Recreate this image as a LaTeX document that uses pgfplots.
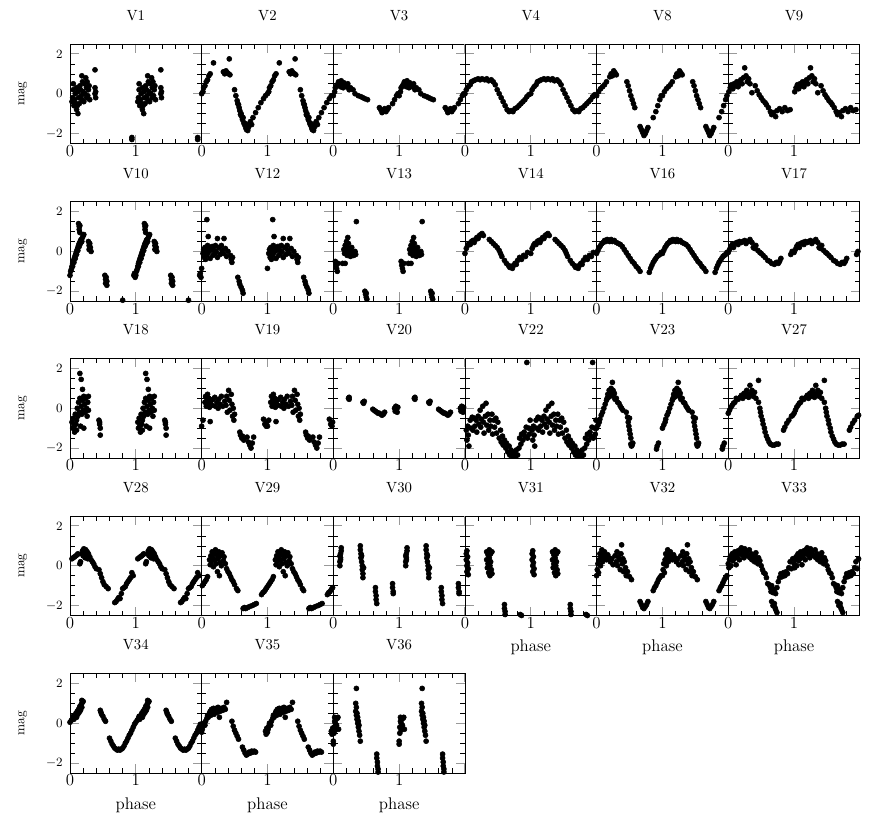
\documentclass[border=0pt]{standalone}
\usepackage{pgfplots}
\usepackage{pgfplotstable}
\pgfplotsset{compat=1.18}

\pgfplotsset{
  lc/.style={scale only axis, width=32.91mm, height=24.875mm, anchor=south west,
    xmin=0, xmax=2, ymin=-2.5, ymax=2.5,
    xtick={0,1,2}, xticklabels={0,1,{}},
    minor xtick={0.2,0.4,0.6,0.8,1.2,1.4,1.6,1.8},
    ytick={-2,0,2}, minor y tick num=3,
    tick align=inside,
    major tick length=2.2mm, minor tick length=1.2mm,
    major tick style={black!40, line width=0.7pt},
    minor tick style={black, line width=0.4pt},
    axis line style={line width=0.6pt},
    xticklabel style={font=\fontsize{12}{12}\selectfont, inner sep=1pt},
    yticklabel style={font=\fontsize{9.5}{10}\selectfont, xshift=-0.6mm},
    title style={at={(0.5,1)}, anchor=center, yshift=5mm, font=\fontsize{10.5}{12}\selectfont},
    xlabel style={at={(axis description cs:0.5,-0.32)}, anchor=center, font=\fontsize{12}{12}\selectfont},
  },
  inner/.style={yticklabels={,,}},
  first/.style={ylabel={mag}, ylabel style={at={(axis description cs:-0.36,0.5)}, anchor=center, font=\fontsize{9.5}{10}\selectfont}},
  pts/.style={only marks, mark=*, mark size=1.8pt, black},
}

% each panel: phase 0..1 plotted, then again shifted by one cycle
\newcommand{\panel}[5]{%
\begin{axis}[lc, at={(#1mm,#2mm)}, title={#3}, #4]
\addplot[pts] table[x=p, y=m]{#5};
\addplot[pts] table[x expr=\thisrow{p}+1, y=m]{#5};
\end{axis}}

% V1
\pgfplotstableread[row sep=\\]{p m\\
0.03 -0.4\\0.04 -0.2\\0.05 0.5\\0.05 0.2\\0.06 -0.6\\0.07 -0.3\\0.08 0.0\\0.09 -0.5\\0.10 -0.8\\0.10 0.3\\
0.11 -0.6\\0.12 -1.0\\0.12 0.1\\0.13 -0.2\\0.14 -0.5\\0.15 0.4\\0.16 0.2\\0.17 -0.1\\0.18 0.9\\0.18 -0.3\\
0.19 0.6\\0.20 0.1\\0.21 -0.4\\0.22 0.5\\0.23 0.0\\0.24 0.8\\0.25 -0.2\\0.25 0.3\\0.26 0.6\\0.27 -0.1\\
0.28 0.2\\0.29 0.4\\0.30 -0.3\\0.38 0.3\\0.38 0.0\\0.39 -0.2\\0.39 0.1\\0.38 1.2\\0.94 -2.2\\0.94 -2.3\\
}\lcA
% V2
\pgfplotstableread[row sep=\\]{p m\\
0.00 0.0\\0.02 0.1\\0.03 0.3\\0.05 0.4\\0.07 0.6\\0.09 0.7\\0.11 0.9\\0.13 1.0\\0.18 1.55\\0.33 1.1\\
0.35 1.0\\0.37 1.15\\0.39 1.05\\0.41 1.0\\0.42 1.75\\0.43 0.95\\0.50 0.2\\0.52 -0.1\\0.54 -0.35\\0.55 -0.5\\
0.56 -0.55\\0.57 -0.7\\0.58 -0.85\\0.59 -1.05\\0.60 -1.0\\0.61 -1.15\\0.62 -1.3\\0.63 -1.2\\0.64 -1.45\\0.65 -1.55\\
0.66 -1.5\\0.67 -1.7\\0.68 -1.8\\0.69 -1.6\\0.70 -1.85\\0.71 -1.7\\0.72 -1.6\\0.73 -1.5\\0.74 -1.4\\0.76 -1.55\\
0.78 -1.2\\0.82 -0.95\\0.86 -0.7\\0.90 -0.45\\0.94 -0.25\\0.97 -0.1\\
}\lcB
% V3
\pgfplotstableread[row sep=\\]{p m\\
0.00 -0.1\\0.02 0.1\\0.03 0.3\\0.05 0.4\\0.07 0.5\\0.08 0.6\\0.10 0.45\\0.11 0.35\\0.12 0.65\\0.14 0.5\\
0.15 0.3\\0.16 0.55\\0.18 0.4\\0.20 0.35\\0.22 0.5\\0.24 0.2\\0.26 0.3\\0.30 0.2\\0.33 0.0\\0.38 -0.1\\
0.42 -0.15\\0.45 -0.2\\0.48 -0.25\\0.52 -0.3\\0.70 -0.7\\0.72 -0.8\\0.74 -0.95\\0.76 -0.85\\0.78 -0.75\\0.80 -0.9\\
0.82 -0.8\\0.84 -0.7\\0.90 -0.5\\0.93 -0.3\\0.96 -0.1\\0.98 0.0\\
}\lcC
% V4
\pgfplotstableread[row sep=\\]{p m\\
0.00 0.0\\0.02 0.2\\0.05 0.35\\0.08 0.45\\0.10 0.6\\0.13 0.65\\0.16 0.7\\0.20 0.75\\0.23 0.7\\0.26 0.75\\
0.30 0.7\\0.33 0.75\\0.36 0.65\\0.40 0.7\\0.43 0.6\\0.46 0.45\\0.49 0.2\\0.52 0.0\\0.55 -0.2\\0.58 -0.4\\
0.61 -0.6\\0.64 -0.8\\0.67 -0.9\\0.70 -0.85\\0.73 -0.9\\0.76 -0.75\\0.79 -0.7\\0.82 -0.6\\0.85 -0.5\\0.88 -0.4\\
0.91 -0.3\\0.94 -0.15\\0.97 -0.05\\
}\lcD
% V8
\pgfplotstableread[row sep=\\]{p m\\
0.00 -0.1\\0.03 0.1\\0.06 0.25\\0.09 0.35\\0.12 0.45\\0.15 0.6\\0.20 0.85\\0.22 1.0\\0.24 0.9\\0.26 1.15\\
0.28 1.05\\0.30 0.95\\0.46 0.6\\0.48 0.4\\0.50 0.15\\0.52 -0.1\\0.54 -0.3\\0.56 -0.5\\0.58 -0.7\\0.66 -1.65\\
0.68 -1.8\\0.70 -1.95\\0.72 -2.1\\0.74 -2.0\\0.76 -1.85\\0.78 -1.7\\0.86 -1.2\\0.90 -0.9\\0.93 -0.6\\0.96 -0.3\\
0.98 -0.1\\
}\lcE
% V9
\pgfplotstableread[row sep=\\]{p m\\
0.01 0.1\\0.03 0.3\\0.05 0.45\\0.07 0.25\\0.09 0.5\\0.11 0.4\\0.13 0.6\\0.15 0.35\\0.17 0.55\\0.19 0.7\\
0.21 0.5\\0.23 0.8\\0.25 1.3\\0.27 0.9\\0.29 0.6\\0.31 0.75\\0.33 0.5\\0.36 0.05\\0.41 0.4\\0.44 0.15\\
0.47 -0.05\\0.50 -0.2\\0.53 -0.35\\0.56 -0.45\\0.58 -0.55\\0.61 -0.7\\0.64 -0.9\\0.66 -1.05\\0.69 -0.95\\0.72 -1.15\\
0.74 -0.85\\0.78 -0.75\\0.82 -0.9\\0.86 -0.7\\0.90 -0.85\\0.94 -0.8\\
}\lcF
% V10
\pgfplotstableread[row sep=\\]{p m\\
0.00 -1.2\\0.01 -1.0\\0.02 -0.9\\0.03 -0.75\\0.04 -0.6\\0.04 -0.75\\0.05 -0.5\\0.06 -0.4\\0.06 -0.55\\0.07 -0.3\\
0.08 -0.2\\0.08 -0.35\\0.09 -0.1\\0.10 0.0\\0.10 -0.15\\0.11 0.1\\0.12 0.2\\0.12 0.05\\0.13 0.3\\0.14 0.4\\
0.14 0.25\\0.15 0.45\\0.16 0.55\\0.16 0.4\\0.17 0.6\\0.18 0.5\\0.19 0.7\\0.20 0.8\\0.21 0.85\\0.13 1.4\\
0.14 1.25\\0.14 1.1\\0.15 1.3\\0.15 0.95\\0.28 0.5\\0.29 0.3\\0.29 0.1\\0.30 0.4\\0.31 0.2\\0.32 0.0\\
0.53 -1.2\\0.54 -1.4\\0.54 -1.6\\0.55 -1.3\\0.56 -1.5\\0.56 -1.7\\0.80 -2.45\\0.97 -1.2\\0.98 -1.1\\0.99 -1.3\\
}\lcG
% V12
\pgfplotstableread[row sep=\\]{p m\\
0.00 -0.85\\0.02 -0.1\\0.03 0.1\\0.04 -0.3\\0.05 0.2\\0.06 -0.4\\0.07 0.0\\0.08 1.6\\0.08 -0.2\\0.09 0.3\\
0.10 0.75\\0.10 -0.05\\0.12 0.15\\0.13 -0.35\\0.14 0.05\\0.16 0.25\\0.17 -0.2\\0.18 0.1\\0.20 -0.1\\0.21 0.3\\
0.22 0.0\\0.24 0.65\\0.24 -0.3\\0.26 0.2\\0.28 -0.15\\0.30 0.3\\0.31 0.05\\0.33 -0.1\\0.34 0.65\\0.36 0.15\\
0.38 -0.25\\0.40 0.0\\0.44 -0.2\\0.45 -0.4\\0.46 -0.55\\0.47 -0.3\\0.55 -1.3\\0.57 -1.5\\0.58 -1.65\\0.60 -1.8\\
0.62 -1.95\\0.63 -2.1\\
}\lcH
% V13
\pgfplotstableread[row sep=\\]{p m\\
0.03 -0.5\\0.04 -0.7\\0.05 -0.85\\0.06 -1.0\\0.07 -0.6\\0.14 -0.6\\0.18 -0.6\\0.16 0.1\\0.17 -0.1\\0.18 0.3\\
0.19 0.0\\0.20 0.5\\0.21 0.2\\0.21 -0.2\\0.22 0.7\\0.22 0.05\\0.23 0.4\\0.24 -0.1\\0.25 0.15\\0.26 -0.25\\
0.27 0.0\\0.28 0.2\\0.30 -0.1\\0.31 -0.2\\0.33 0.0\\0.34 -0.15\\0.35 1.5\\0.48 -2.0\\0.49 -2.15\\0.50 -2.3\\
0.51 -2.4\\0.50 -2.1\\
}\lcI
% V14
\pgfplotstableread[row sep=\\]{p m\\
0.00 -0.1\\0.02 0.15\\0.04 0.3\\0.06 0.4\\0.08 0.35\\0.10 0.5\\0.12 0.55\\0.14 0.45\\0.16 0.6\\0.18 0.7\\
0.20 0.65\\0.22 0.8\\0.24 0.85\\0.26 0.9\\0.28 0.8\\0.37 0.6\\0.40 0.5\\0.43 0.4\\0.46 0.3\\0.49 0.2\\
0.52 0.05\\0.54 -0.1\\0.56 -0.25\\0.60 -0.45\\0.63 -0.6\\0.66 -0.7\\0.68 -0.8\\0.70 -0.75\\0.72 -0.85\\0.74 -0.7\\
0.76 -0.6\\0.78 -0.65\\0.80 -0.45\\0.83 -0.3\\0.86 -0.4\\0.89 -0.2\\0.92 -0.25\\0.95 -0.05\\
}\lcJ
% V16
\pgfplotstableread[row sep=\\]{p m\\
0.00 -0.1\\0.02 0.05\\0.04 0.2\\0.06 0.3\\0.08 0.4\\0.10 0.45\\0.12 0.55\\0.14 0.5\\0.16 0.6\\0.18 0.55\\
0.20 0.5\\0.22 0.6\\0.24 0.5\\0.27 0.55\\0.30 0.45\\0.33 0.4\\0.36 0.35\\0.39 0.25\\0.42 0.1\\0.45 -0.05\\
0.48 -0.2\\0.51 -0.35\\0.54 -0.5\\0.57 -0.6\\0.60 -0.75\\0.63 -0.85\\0.66 -1.0\\0.80 -1.05\\0.82 -0.85\\0.84 -0.7\\
0.86 -0.55\\0.88 -0.45\\0.90 -0.35\\0.92 -0.25\\0.94 -0.2\\0.96 -0.15\\0.98 -0.05\\
}\lcK
% V17
\pgfplotstableread[row sep=\\]{p m\\
0.00 -0.05\\0.02 0.1\\0.04 0.25\\0.06 0.35\\0.08 0.2\\0.10 0.4\\0.13 0.45\\0.15 0.35\\0.17 0.5\\0.20 0.45\\
0.22 0.5\\0.25 0.55\\0.27 0.4\\0.30 0.5\\0.33 0.6\\0.36 0.45\\0.38 0.2\\0.40 0.15\\0.42 0.3\\0.45 0.05\\
0.48 -0.05\\0.50 -0.1\\0.53 -0.2\\0.56 -0.3\\0.60 -0.45\\0.63 -0.5\\0.66 -0.6\\0.70 -0.65\\0.73 -0.55\\0.76 -0.6\\
0.78 -0.5\\0.80 -0.35\\0.95 -0.15\\0.97 0.0\\
}\lcL
% V18
\pgfplotstableread[row sep=\\]{p m\\
0.03 -0.7\\0.04 -1.0\\0.05 -0.5\\0.06 -0.9\\0.07 -1.2\\0.08 -0.3\\0.09 -0.8\\0.10 -0.6\\0.10 -1.1\\0.11 0.0\\
0.12 -0.4\\0.13 0.3\\0.14 -0.2\\0.15 1.75\\0.15 0.5\\0.16 -0.9\\0.17 1.45\\0.17 0.1\\0.18 -0.3\\0.19 0.95\\
0.19 0.4\\0.20 -0.1\\0.21 0.6\\0.21 -1.0\\0.22 0.2\\0.23 -0.2\\0.24 0.5\\0.25 0.0\\0.26 -0.4\\0.27 0.3\\
0.28 -0.1\\0.28 0.6\\0.44 -0.6\\0.45 -0.8\\0.46 -1.0\\0.45 -0.7\\0.46 -1.35\\
}\lcM
% V19
\pgfplotstableread[row sep=\\]{p m\\
0.94 -0.55\\0.96 -0.8\\0.98 -0.9\\0.99 -0.7\\0.00 -0.9\\0.02 -0.6\\0.05 0.3\\0.06 0.6\\0.07 0.1\\0.08 0.4\\
0.09 0.7\\0.10 0.2\\0.11 0.5\\0.12 0.05\\0.13 -0.67\\0.14 0.35\\0.16 0.15\\0.17 0.45\\0.20 0.55\\0.21 0.1\\
0.23 0.3\\0.25 0.0\\0.26 0.45\\0.28 0.2\\0.30 0.6\\0.32 0.1\\0.35 0.35\\0.37 0.15\\0.38 0.6\\0.39 -0.2\\
0.41 0.9\\0.42 0.4\\0.43 -0.1\\0.45 0.7\\0.46 0.2\\0.47 -0.4\\0.48 0.0\\0.49 -0.6\\0.50 -0.3\\0.58 -1.2\\
0.59 -1.35\\0.61 -1.5\\0.62 -1.4\\0.64 -1.6\\0.69 -1.45\\0.71 -1.7\\0.73 -1.85\\0.75 -2.0\\0.77 -1.75\\0.79 -1.45\\
}\lcN
% V20
\pgfplotstableread[row sep=\\]{p m\\
0.23 0.5\\0.24 0.45\\0.24 0.55\\0.45 0.3\\0.46 0.25\\0.47 0.35\\0.60 -0.05\\0.62 -0.1\\0.64 -0.15\\0.66 -0.2\\
0.68 -0.25\\0.70 -0.25\\0.72 -0.3\\0.74 -0.35\\0.76 -0.3\\0.78 -0.2\\0.93 0.0\\0.94 -0.15\\0.95 0.1\\0.96 -0.05\\
0.97 -0.2\\0.98 0.05\\
}\lcO
% V22
\pgfplotstableread[row sep=\\]{p m\\
0.02 -1.1\\0.03 -1.6\\0.04 -0.9\\0.05 -1.35\\0.06 -1.9\\0.08 -0.6\\0.09 -1.0\\0.11 -0.45\\0.12 -1.1\\0.14 -0.5\\
0.15 -0.9\\0.17 -0.6\\0.18 -1.2\\0.20 -0.4\\0.21 -0.8\\0.23 -0.1\\0.24 -0.95\\0.25 -0.55\\0.27 0.1\\0.28 -0.7\\
0.29 -1.25\\0.31 -0.4\\0.32 0.25\\0.33 -0.85\\0.35 -0.3\\0.36 -1.1\\0.38 -0.6\\0.39 -0.9\\0.41 -0.3\\0.42 -1.3\\
0.44 -0.6\\0.45 -0.95\\0.47 -0.5\\0.48 -1.25\\0.50 -0.7\\0.52 -1.5\\0.54 -1.1\\0.55 -1.7\\0.57 -1.4\\0.58 -1.85\\
0.60 -1.6\\0.62 -2.0\\0.63 -1.75\\0.65 -2.2\\0.67 -1.9\\0.68 -2.35\\0.70 -2.1\\0.72 -2.4\\0.73 -2.2\\0.75 -2.3\\
0.77 -2.4\\0.78 -2.1\\0.80 -2.35\\0.82 -2.0\\0.83 -1.5\\0.85 -1.8\\0.86 -1.3\\0.88 -1.6\\0.90 -1.2\\0.91 -1.4\\
0.93 -0.95\\0.94 2.3\\0.95 -1.5\\0.97 -1.0\\0.98 -1.3\\0.99 -0.6\\
}\lcP
% V23
\pgfplotstableread[row sep=\\]{p m\\
0.91 -2.05\\0.92 -1.9\\0.94 -1.75\\0.00 -1.0\\0.02 -0.85\\0.04 -0.7\\0.05 -0.55\\0.07 -0.35\\0.09 -0.2\\0.11 0.0\\
0.13 0.2\\0.15 0.4\\0.16 0.5\\0.17 0.7\\0.18 0.55\\0.19 0.9\\0.20 0.6\\0.21 0.8\\0.22 1.0\\0.23 0.75\\
0.24 1.3\\0.25 0.9\\0.26 0.6\\0.27 0.75\\0.28 0.45\\0.30 0.5\\0.32 0.3\\0.34 0.25\\0.36 0.1\\0.38 0.0\\
0.40 -0.1\\0.45 -0.2\\0.47 -0.45\\0.48 -0.7\\0.49 -0.9\\0.50 -1.1\\0.51 -1.3\\0.50 -0.5\\0.52 -1.5\\0.52 -1.8\\
0.53 -1.9\\0.54 -1.85\\0.55 -1.75\\
}\lcQ
% V27
\pgfplotstableread[row sep=\\]{p m\\
0.00 -0.25\\0.02 -0.1\\0.04 0.05\\0.06 0.15\\0.08 0.25\\0.10 0.3\\0.12 0.5\\0.15 0.45\\0.18 0.55\\0.20 0.65\\
0.22 0.5\\0.24 0.75\\0.26 0.6\\0.28 0.9\\0.30 0.7\\0.31 0.55\\0.33 1.15\\0.34 0.75\\0.36 0.9\\0.38 0.6\\
0.40 0.8\\0.42 0.5\\0.46 1.4\\0.46 0.3\\0.48 0.0\\0.49 -0.2\\0.50 -0.4\\0.52 -0.6\\0.53 -0.8\\0.55 -1.0\\
0.56 -1.2\\0.58 -1.4\\0.60 -1.55\\0.62 -1.7\\0.64 -1.8\\0.67 -1.85\\0.70 -1.85\\0.73 -1.8\\0.76 -1.8\\0.84 -1.1\\
0.86 -0.95\\0.89 -0.75\\0.92 -0.6\\0.96 -0.4\\0.98 -0.35\\
}\lcR
% V28
\pgfplotstableread[row sep=\\]{p m\\
0.03 0.35\\0.05 0.4\\0.07 0.45\\0.09 0.5\\0.11 0.55\\0.12 0.6\\0.15 0.1\\0.16 0.2\\0.18 0.6\\0.19 0.75\\
0.20 0.5\\0.21 0.85\\0.22 0.65\\0.23 0.4\\0.24 0.8\\0.25 0.55\\0.26 0.7\\0.27 0.35\\0.28 0.6\\0.30 0.45\\
0.32 0.3\\0.34 0.2\\0.36 0.1\\0.38 -0.05\\0.40 -0.15\\0.44 -0.2\\0.46 -0.4\\0.48 -0.6\\0.50 -0.8\\0.52 -0.95\\
0.55 -1.05\\0.58 -1.15\\0.68 -1.85\\0.70 -1.8\\0.72 -1.7\\0.74 -1.6\\0.76 -1.65\\0.78 -1.4\\0.80 -1.15\\0.82 -1.1\\
0.84 -1.05\\0.86 -0.9\\0.88 -0.8\\0.90 -0.7\\0.92 -0.6\\0.94 -0.35\\0.96 -0.5\\
}\lcS
% V29
\pgfplotstableread[row sep=\\]{p m\\
0.91 -1.45\\0.93 -1.35\\0.95 -1.3\\0.97 -1.2\\0.99 -1.1\\0.01 -1.0\\0.03 -0.9\\0.05 -0.8\\0.07 -0.7\\0.09 -0.55\\
0.12 0.3\\0.13 0.05\\0.14 0.5\\0.15 0.2\\0.16 0.7\\0.17 0.4\\0.18 -0.05\\0.19 0.6\\0.20 0.3\\0.21 0.8\\
0.22 0.1\\0.23 0.55\\0.24 -0.3\\0.25 0.35\\0.26 0.7\\0.27 -0.5\\0.28 0.15\\0.29 0.5\\0.30 0.0\\0.31 0.65\\
0.33 0.25\\0.34 0.45\\0.36 0.1\\0.38 -0.15\\0.40 -0.3\\0.42 -0.4\\0.44 -0.55\\0.46 -0.7\\0.48 -0.8\\0.50 -0.95\\
0.53 -1.15\\0.55 -1.25\\0.63 -2.15\\0.65 -2.1\\0.67 -2.15\\0.70 -2.1\\0.73 -2.05\\0.77 -2.0\\0.80 -1.95\\0.83 -1.9\\
}\lcT
% V30
\pgfplotstableread[row sep=\\]{p m\\
0.10 0.0\\0.10 0.2\\0.11 0.4\\0.11 0.6\\0.12 0.75\\0.12 0.9\\0.11 0.3\\0.10 0.5\\0.41 1.0\\0.41 0.8\\
0.42 0.6\\0.42 0.4\\0.43 0.2\\0.44 0.0\\0.44 -0.2\\0.45 -0.4\\0.45 -0.6\\0.43 0.5\\0.46 -0.1\\0.64 -1.1\\
0.64 -1.3\\0.65 -1.5\\0.65 -1.7\\0.66 -1.9\\0.90 -0.9\\0.90 -1.1\\0.91 -1.3\\0.91 -1.4\\
}\lcU
% V31
\pgfplotstableread[row sep=\\]{p m\\
0.02 0.6\\0.02 0.3\\0.03 0.0\\0.03 -0.3\\0.04 0.45\\0.04 0.15\\0.05 -0.15\\0.05 -0.45\\0.03 0.75\\0.33 0.7\\
0.33 0.3\\0.34 -0.1\\0.35 0.55\\0.35 0.1\\0.36 -0.35\\0.37 0.8\\0.37 0.4\\0.38 0.0\\0.38 -0.5\\0.39 0.6\\
0.39 0.2\\0.40 -0.2\\0.41 0.7\\0.41 -0.4\\0.36 0.25\\0.60 -1.95\\0.60 -2.15\\0.61 -2.3\\0.61 -2.45\\0.84 -2.45\\
0.86 -2.5\\
}\lcV
% V32
\pgfplotstableread[row sep=\\]{p m\\
0.00 -0.5\\0.01 -0.2\\0.02 0.1\\0.03 -0.35\\0.04 0.3\\0.05 0.6\\0.06 0.0\\0.07 0.45\\0.08 0.8\\0.09 0.2\\
0.10 0.55\\0.11 0.35\\0.12 0.7\\0.13 0.4\\0.15 0.3\\0.17 0.55\\0.19 0.4\\0.21 0.2\\0.23 0.35\\0.25 0.05\\
0.28 0.5\\0.30 0.2\\0.31 0.7\\0.32 0.0\\0.33 0.45\\0.35 0.3\\0.36 -0.2\\0.37 0.6\\0.38 1.05\\0.39 0.1\\
0.40 0.35\\0.41 -0.3\\0.42 0.2\\0.44 -0.1\\0.45 -0.5\\0.47 -0.3\\0.50 -0.55\\0.53 -0.7\\0.66 -1.8\\0.68 -1.95\\
0.70 -2.1\\0.72 -2.15\\0.74 -2.05\\0.76 -1.95\\0.78 -1.8\\0.86 -1.25\\0.88 -1.1\\0.90 -1.0\\0.92 -0.85\\0.94 -0.7\\
0.96 -0.6\\0.98 -0.5\\
}\lcW
% V33
\pgfplotstableread[row sep=\\]{p m\\
0.00 0.1\\0.01 -0.1\\0.02 0.3\\0.03 0.45\\0.04 0.0\\0.05 0.4\\0.06 0.6\\0.07 0.25\\0.08 0.5\\0.09 0.35\\
0.10 0.7\\0.11 0.5\\0.12 0.05\\0.13 0.55\\0.14 0.4\\0.15 0.75\\0.16 0.6\\0.17 0.3\\0.18 0.8\\0.19 0.65\\
0.20 0.9\\0.21 0.55\\0.22 0.75\\0.24 0.4\\0.25 0.85\\0.26 0.6\\0.28 0.7\\0.30 0.5\\0.32 0.8\\0.33 0.4\\
0.35 0.6\\0.36 0.3\\0.38 0.5\\0.40 0.2\\0.41 0.45\\0.42 0.65\\0.43 0.3\\0.45 0.1\\0.46 0.4\\0.48 0.25\\
0.50 0.0\\0.52 -0.2\\0.54 -0.35\\0.56 -0.4\\0.58 -0.6\\0.60 -0.9\\0.62 -0.95\\0.64 -1.1\\0.65 -1.3\\0.66 -1.0\\
0.68 -1.35\\0.70 -1.2\\0.72 -1.4\\0.74 -1.1\\0.66 -1.8\\0.68 -2.0\\0.70 -1.9\\0.72 -2.2\\0.74 -2.35\\0.71 -2.1\\
0.76 -0.8\\0.78 -0.6\\0.80 -0.4\\0.82 -0.55\\0.84 -0.35\\0.86 -0.5\\0.88 -0.3\\0.90 -0.4\\0.92 -0.1\\0.94 0.2\\
0.96 -0.15\\0.98 0.35\\
}\lcX
% V34
\pgfplotstableread[row sep=\\]{p m\\
0.00 0.05\\0.02 0.15\\0.04 0.25\\0.05 0.35\\0.06 0.2\\0.08 0.4\\0.09 0.5\\0.10 0.3\\0.11 0.6\\0.12 0.45\\
0.13 0.7\\0.14 0.55\\0.15 0.85\\0.16 0.65\\0.17 0.95\\0.18 0.8\\0.19 1.05\\0.20 1.1\\0.18 1.15\\0.46 0.65\\
0.47 0.55\\0.48 0.45\\0.50 0.35\\0.52 0.2\\0.54 0.1\\0.60 -0.75\\0.62 -0.9\\0.64 -1.05\\0.66 -1.15\\0.68 -1.25\\
0.70 -1.3\\0.72 -1.35\\0.74 -1.3\\0.76 -1.35\\0.78 -1.3\\0.80 -1.25\\0.82 -1.15\\0.84 -1.0\\0.86 -0.9\\0.88 -0.75\\
0.90 -0.6\\0.92 -0.5\\0.94 -0.35\\0.96 -0.2\\0.98 -0.05\\
}\lcY
% V35
\pgfplotstableread[row sep=\\]{p m\\
0.00 -0.45\\0.01 -0.3\\0.02 -0.15\\0.03 0.0\\0.05 -0.1\\0.06 0.1\\0.08 0.25\\0.09 0.4\\0.10 0.3\\0.12 0.5\\
0.13 0.6\\0.14 0.4\\0.15 0.7\\0.16 0.55\\0.18 0.75\\0.19 0.45\\0.20 0.65\\0.22 0.75\\0.24 0.55\\0.25 0.8\\
0.26 0.7\\0.27 0.3\\0.28 0.6\\0.30 0.75\\0.32 0.65\\0.34 0.8\\0.36 0.7\\0.38 1.05\\0.46 0.1\\0.48 -0.15\\
0.50 -0.35\\0.52 -0.5\\0.54 -0.65\\0.56 -0.8\\0.62 -1.2\\0.64 -1.35\\0.66 -1.5\\0.68 -1.6\\0.70 -1.55\\0.72 -1.45\\
0.74 -1.5\\0.76 -1.4\\0.78 -1.45\\0.80 -1.4\\0.82 -1.45\\0.97 -0.4\\0.98 -0.55\\0.99 -0.25\\
}\lcZ
% V36
\pgfplotstableread[row sep=\\]{p m\\
0.00 -0.9\\0.00 -1.05\\0.01 -0.5\\0.01 -0.2\\0.02 0.1\\0.02 0.3\\0.03 -0.35\\0.03 0.0\\0.04 0.2\\0.05 -0.1\\
0.06 0.25\\0.07 0.3\\0.08 -0.3\\0.34 1.0\\0.34 0.6\\0.35 0.8\\0.35 0.4\\0.35 1.75\\0.36 0.2\\0.36 0.5\\
0.37 0.0\\0.37 0.3\\0.38 -0.2\\0.38 0.1\\0.39 -0.4\\0.39 -0.1\\0.40 -0.6\\0.41 -0.9\\0.66 -1.55\\0.66 -1.75\\
0.67 -1.95\\0.67 -2.15\\0.68 -2.3\\0.68 -2.45\\
}\lcZZ

\begin{document}
\begin{tikzpicture}
\useasboundingbox (0,0) rectangle (218mm,206.25mm);
% row 1
\panel{17.5}{170.38}{V1}{first}{\lcA}
\panel{50.41}{170.38}{V2}{inner}{\lcB}
\panel{83.33}{170.38}{V3}{inner}{\lcC}
\panel{116.24}{170.38}{V4}{inner}{\lcD}
\panel{149.15}{170.38}{V8}{inner}{\lcE}
\panel{182.06}{170.38}{V9}{inner}{\lcF}
% row 2
\panel{17.5}{130.95}{V10}{first}{\lcG}
\panel{50.41}{130.95}{V12}{inner}{\lcH}
\panel{83.33}{130.95}{V13}{inner}{\lcI}
\panel{116.24}{130.95}{V14}{inner}{\lcJ}
\panel{149.15}{130.95}{V16}{inner}{\lcK}
\panel{182.06}{130.95}{V17}{inner}{\lcL}
% row 3
\panel{17.5}{91.75}{V18}{first}{\lcM}
\panel{50.41}{91.75}{V19}{inner}{\lcN}
\panel{83.33}{91.75}{V20}{inner}{\lcO}
\panel{116.24}{91.75}{V22}{inner}{\lcP}
\panel{149.15}{91.75}{V23}{inner}{\lcQ}
\panel{182.06}{91.75}{V27}{inner}{\lcR}
% row 4
\panel{17.5}{52.38}{V28}{first}{\lcS}
\panel{50.41}{52.38}{V29}{inner}{\lcT}
\panel{83.33}{52.38}{V30}{inner}{\lcU}
\panel{116.24}{52.38}{V31}{inner, xlabel={phase}}{\lcV}
\panel{149.15}{52.38}{V32}{inner, xlabel={phase}}{\lcW}
\panel{182.06}{52.38}{V33}{inner, xlabel={phase}}{\lcX}
% row 5
\panel{17.5}{13.0}{V34}{first, xlabel={phase}}{\lcY}
\panel{50.41}{13.0}{V35}{inner, xlabel={phase}}{\lcZ}
\panel{83.33}{13.0}{V36}{inner, xlabel={phase}}{\lcZZ}
\end{tikzpicture}
\end{document}
